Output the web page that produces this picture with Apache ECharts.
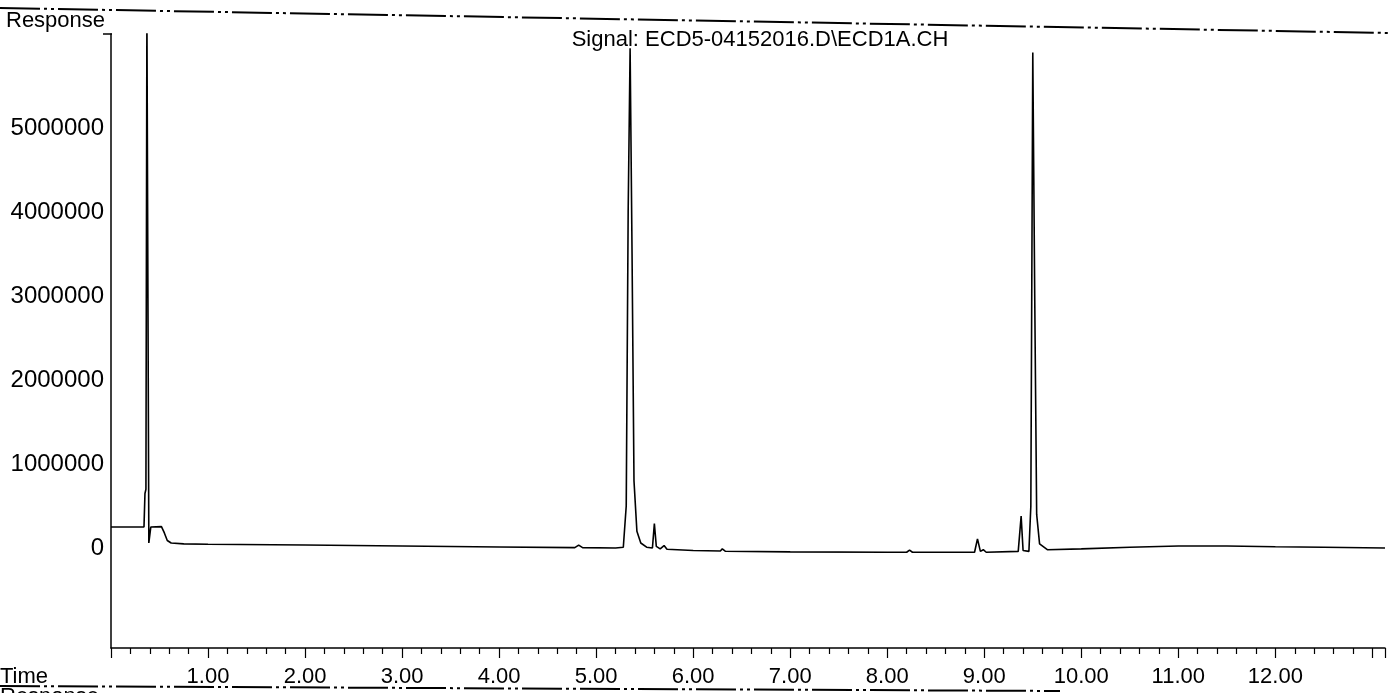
<!DOCTYPE html>
<html>
<head>
<meta charset="utf-8">
<script src="https://cdn.jsdelivr.net/npm/echarts@6/dist/echarts.min.js"></script>
<style>
html,body{margin:0;padding:0;background:#fff;}
#chart{width:1391px;height:693px;}
</style>
</head>
<body>
<div id="chart"></div>
<script>
// Retention time (min)
const times = [
  0.00, 0.34, 0.35, 0.36, 0.37, 0.38, 0.39, 0.41, 0.43, 0.52, 0.55, 0.58, 0.62, 0.75,
  1.00, 2.00, 3.00, 4.00, 4.78, 4.82, 4.86, 5.20, 5.28, 5.31, 5.33, 5.35, 5.37, 5.39,
  5.42, 5.46, 5.52, 5.58, 5.60, 5.62, 5.66, 5.70, 5.73, 6.00, 6.28, 6.30, 6.33, 7.00,
  8.00, 8.20, 8.23, 8.26, 8.90, 8.93, 8.96, 8.99, 9.02, 9.35, 9.38, 9.40, 9.46, 9.48,
  9.50, 9.52, 9.54, 9.57, 9.65, 10.00, 10.50, 11.00, 11.50, 12.00, 12.50, 13.13
];
// Detector response
const responses = [
  250000, 250000, 650000, 700000, 6400000, 6400000, 60000, 250000, 265000, 255000, 180000, 90000, 60000, 50000,
  45000, 36000, 24000, 12000, 5000, 35000, 5000, 0, 10000, 500000, 4000000, 5950000, 3500000, 800000,
  200000, 60000, 10000, 0, 290000, 20000, -10000, 30000, -15000, -30000, -35000, -10000, -38000, -45000,
  -50000, -50000, -25000, -50000, -50000, 110000, -40000, -20000, -50000, -40000, 380000, -30000, -40000, 500000,
  5900000, 3000000, 400000, 50000, -20000, -10000, 10000, 25000, 25000, 15000, 10000, 0
];
const yTickValues = [0, 1000000, 2000000, 3000000, 4000000, 5000000];
const xTickLabels = ['1.00','2.00','3.00','4.00','5.00','6.00','7.00','8.00','9.00','10.00','11.00','12.00'];
const titleText = 'Signal: ECD5-04152016.D\\ECD1A.CH';

const seriesData = times.map((t, i) => [t, responses[i]]);
const FONT = '"Liberation Sans", Arial, sans-serif';

const chart = echarts.init(document.getElementById('chart'), null, {renderer: 'canvas'});
chart.setOption({
  backgroundColor: '#ffffff',
  animation: false,
  grid: {left: 111, right: 6, top: 34, bottom: 45, containLabel: false},
  xAxis: {
    type: 'value',
    min: 0,
    max: 13.13,
    interval: 1,
    axisLine: {show: true, onZero: false, lineStyle: {color: '#000', width: 1.5}},
    axisTick: {show: true, inside: false, length: 10, lineStyle: {color: '#000', width: 1.2}},
    minorTick: {show: true, splitNumber: 5, length: 6, lineStyle: {color: '#000', width: 1.2}},
    splitLine: {show: false},
    axisLabel: {
      margin: 18,
      color: '#000',
      fontFamily: FONT,
      fontSize: 22,
      formatter: function (v) {
        const k = Math.round(v);
        if (Math.abs(v - k) > 1e-6 || k < 1 || k > xTickLabels.length) return '';
        return xTickLabels[k - 1];
      }
    }
  },
  yAxis: {
    type: 'value',
    min: -1190000,
    max: 6120000,
    splitNumber: 7,
    axisLine: {show: true, lineStyle: {color: '#000', width: 1.5}},
    axisTick: {show: false},
    splitLine: {show: false},
    axisLabel: {
      margin: 7,
      color: '#000',
      fontFamily: FONT,
      fontSize: 24,
      formatter: function (v) {
        return yTickValues.indexOf(Math.round(v)) >= 0 ? String(Math.round(v)) : '';
      }
    }
  },
  series: [{
    type: 'line',
    data: seriesData,
    showSymbol: false,
    symbol: 'none',
    smooth: false,
    clip: true,
    sampling: null,
    lineStyle: {color: '#000', width: 1.6},
    z: 3
  }],
  graphic: [
    {type: 'line', shape: {x1: 0, y1: 8, x2: 1391, y2: 33},
     style: {stroke: '#000', lineWidth: 2, lineDash: [40, 4, 3, 4, 3, 4]}},
    {type: 'line', shape: {x1: 0, y1: 686, x2: 1060, y2: 691},
     style: {stroke: '#000', lineWidth: 2, lineDash: [40, 4, 3, 4, 3, 4]}},
    {type: 'text', left: 6, top: 10,
     style: {text: 'Response', font: '22px ' + FONT, fill: '#000'}},
    {type: 'line', shape: {x1: 103, y1: 34, x2: 112, y2: 34},
     style: {stroke: '#000', lineWidth: 1.5}},
    {type: 'text', x: 760, y: 29,
     style: {text: titleText, font: '22px ' + FONT, fill: '#000', textAlign: 'center'}},
    {type: 'text', left: 0, top: 666,
     style: {text: 'Time', font: '22px ' + FONT, fill: '#000'}},
    {type: 'text', left: 0, top: 686,
     style: {text: 'Response', font: '22px ' + FONT, fill: '#000'}}
  ]
});
</script>
</body>
</html>
